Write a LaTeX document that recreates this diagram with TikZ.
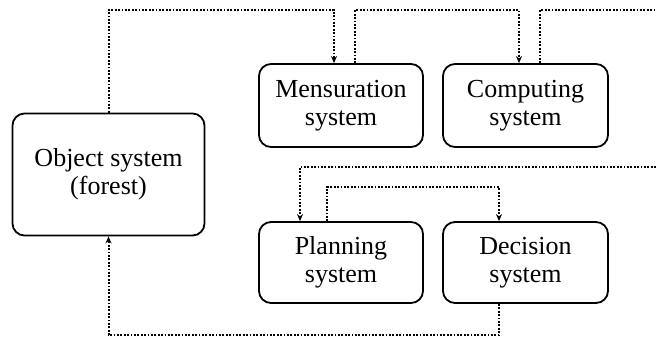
\documentclass[tikz,border=0pt]{standalone}
\usepackage{fontspec}
\setmainfont{Liberation Serif}
\usetikzlibrary{arrows.meta}
\begin{document}
\begin{tikzpicture}[>={Stealth[length=7pt,width=6pt]}, x=1pt, y=-1pt,
  sysbox/.style={draw, line width=1.8pt, rounded corners=12pt, align=center,
    inner sep=0pt, font=\fontsize{26}{28}\selectfont},
  link/.style={line width=2pt, dash pattern=on 1.8pt off 1.6pt}]
\useasboundingbox (0,0) rectangle (656,343);
\node[sysbox, minimum width=192pt, minimum height=122pt] (obj) at (108.5,174.5) {Object system\\(forest)};
\node[sysbox, minimum width=164pt, minimum height=83pt] (mens) at (341,105.5) {Mensuration\\system};
\node[sysbox, minimum width=165pt, minimum height=83pt] (comp) at (525.5,105.5) {Computing\\system};
\node[sysbox, minimum width=164pt, minimum height=81pt] (plan) at (341,262.5) {Planning\\system};
\node[sysbox, minimum width=165pt, minimum height=81pt] (dec) at (525.5,262.5) {Decision\\system};
\coordinate (outtop) at (656,10);
\coordinate (inmid) at (656,167);
% upper loop
\draw[link,->] (obj.north) |- (334,10) -- ([xshift=-7pt]mens.north);
\draw[link,->] ([xshift=14pt]mens.north) |- (519,10) -- ([xshift=-6.5pt]comp.north);
\draw[link] ([xshift=14.5pt]comp.north) |- (outtop);
% lower loop
\draw[link,->] (inmid) -| ([xshift=-41pt]plan.north);
\draw[link,->] ([xshift=-14pt]plan.north) |- (499,187) -- ([xshift=-26.5pt]dec.north);
\draw[link,->] ([xshift=-26.5pt]dec.south) |- (108.5,335) -- (obj.south);
\end{tikzpicture}
\end{document}
